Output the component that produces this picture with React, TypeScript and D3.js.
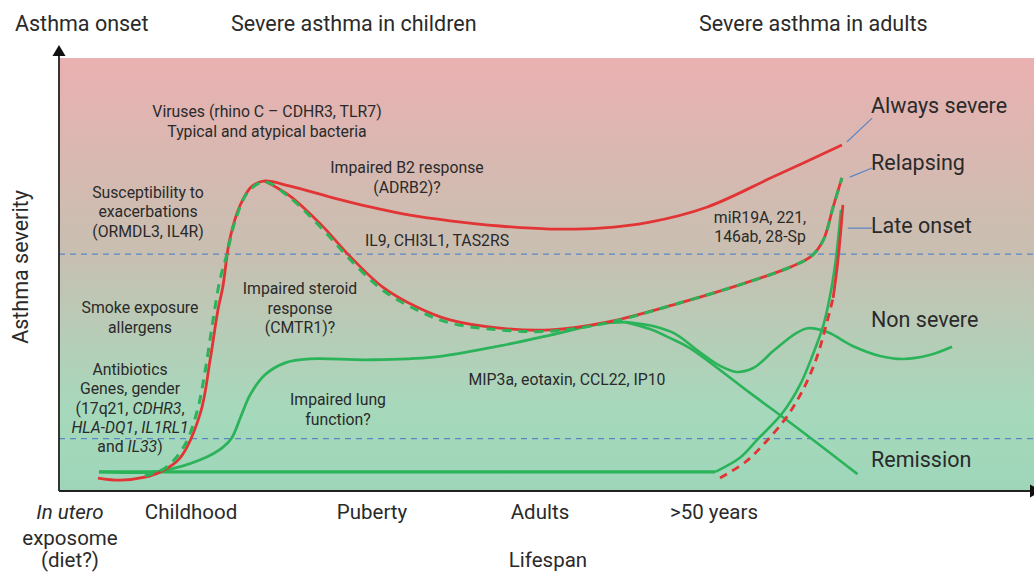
import React from "react";
import * as d3 from "d3";

type Pt = [number, number];

// ---- data (x: lifespan 0-100, y: severity 0-100) ----
const alwaysSevere: Pt[] = [
  [4.0, 3.0], [6.3, 2.5], [8.8, 3.2], [10.4, 4.4], [12.4, 7.6], [14.5, 18.0], [15.5, 30.3],
  [16.3, 41.8], [16.8, 47.1], [17.5, 58.0], [18.6, 66.1], [19.8, 70.4], [21.1, 71.6],
  [23.7, 70.4], [27.8, 67.9], [31.9, 65.6], [36.0, 63.7], [40.1, 62.4], [45.2, 61.2],
  [50.4, 60.5], [55.5, 60.7], [60.6, 62.1], [66.5, 65.6], [73.2, 72.5], [80.3, 79.9],
];
const relapsingRed: Pt[] = [
  [21.1, 71.6], [23.7, 68.1], [27.1, 61.0], [29.8, 54.3], [33.2, 47.1], [36.7, 42.5],
  [40.1, 39.5], [45.2, 37.6], [50.4, 37.2], [56.2, 39.0], [63.0, 43.0], [69.8, 47.6],
  [75.0, 51.7], [77.2, 54.3], [78.4, 58.0], [79.4, 65.6], [80.3, 72.3],
];
const relapsingGreen: Pt[] = [
  [8.8, 3.5], [10.9, 5.3], [12.9, 10.6], [14.2, 18.7], [15.0, 27.9], [15.8, 39.5],
  [16.5, 48.7], [17.2, 54.5], [18.1, 62.6], [19.4, 69.1], [21.1, 71.4], [23.7, 67.7],
  [27.1, 60.3], [29.8, 53.6], [33.2, 46.4], [36.7, 41.8], [40.1, 38.8], [45.2, 37.2],
  [50.4, 36.9], [56.2, 38.8], [63.0, 43.0], [69.8, 47.6], [75.0, 51.7], [77.2, 54.3],
  [78.4, 58.0], [79.4, 65.6], [80.3, 72.3],
];
const baselineGreen: Pt[] = [[4.1, 4.4], [67.3, 4.4]];
const lateOnsetGreen: Pt[] = [
  [67.3, 4.4], [69.8, 7.6], [71.6, 11.8], [74.2, 18.0], [76.0, 24.5], [77.3, 31.4],
  [78.4, 38.3], [79.1, 45.3], [79.6, 52.2], [79.9, 58.0], [80.2, 64.9],
];
const lateOnsetRedDashed: Pt[] = [
  [67.8, 3.0], [70.4, 6.7], [72.4, 11.1], [74.7, 17.3], [76.4, 23.8], [77.7, 30.7],
  [78.6, 37.6], [79.4, 44.6],
];
const lateOnsetRedSolid: Pt[] = [[79.4, 44.6], [79.8, 51.5], [80.1, 58.0], [80.4, 66.1]];
const childhoodGreen: Pt[] = [
  [4.1, 4.4], [10.4, 4.6], [14.5, 7.2], [16.7, 9.9], [17.7, 12.2], [18.6, 16.9], [19.6, 22.2],
  [21.1, 26.8], [23.2, 29.6], [25.7, 30.5], [31.6, 30.3], [38.4, 30.9], [45.2, 33.5],
  [50.4, 36.0], [55.5, 38.6], [58.1, 39.0],
];
const nonSevereGreen: Pt[] = [
  [58.1, 39.0], [60.9, 38.1], [63.2, 36.3], [65.7, 32.1], [67.8, 28.9], [69.5, 27.5],
  [71.2, 28.4], [73.4, 32.6], [75.5, 36.3], [76.8, 37.6], [78.8, 36.7], [81.4, 33.5],
  [84.2, 31.2], [86.6, 30.5], [89.3, 31.4], [91.6, 33.3],
];
const remissionGreen: Pt[] = [
  [58.1, 39.0], [60.6, 37.4], [62.7, 35.3], [64.7, 33.0], [70.9, 22.6], [76.0, 14.1], [81.9, 3.9],
];
const thresholds: number[] = [54.7, 12.1];
const leaders: Pt[][] = [
  [[80.8, 80.6], [83.4, 86.1]],
  [[81.1, 72.5], [83.4, 74.6]],
  [[80.9, 60.7], [83.4, 60.7]],
];
const outcomeLabels: string[] = ["Always severe", "Relapsing", "Late onset", "Non severe", "Remission"];
const stageLabels: string[] = ["Childhood", "Puberty", "Adults", ">50 years"];

// ---- layout ----
const W = 1034, H = 573;
const L = 59, R = 1034, T = 58, B = 491;
const RED = "#e23434";
const GREEN = "#2bb35a";
const BLUE = "#5a86c6";
const TXT = "#2a2a2a";
const FONT = "Roboto, 'Noto Sans', sans-serif";
const ANN = 15.8;

const outcomeY = [113, 170, 233, 327, 467];
const stageX = [191, 372, 540, 714];

export default function App() {
  const x = d3.scaleLinear().domain([0, 100]).range([L, R]);
  const y = d3.scaleLinear().domain([0, 100]).range([B, T]);
  const line = d3
    .line<Pt>()
    .x((d) => x(d[0]))
    .y((d) => y(d[1]))
    .curve(d3.curveCatmullRom.alpha(0.5));
  const straight = d3.line<Pt>().x((d) => x(d[0])).y((d) => y(d[1]));

  const ann = (lines: React.ReactNode[], cx: number, y0: number, dy: number, size = ANN) => (
    <text x={cx} y={y0} textAnchor="middle" fontSize={size} fill={TXT} fontFamily={FONT}>
      {lines.map((l, i) => (
        <tspan key={i} x={cx} dy={i === 0 ? 0 : dy}>
          {l}
        </tspan>
      ))}
    </text>
  );

  return (
    <div style={{ position: "fixed", left: 0, top: 0 }}>
      <svg width={W} height={H} style={{ display: "block", background: "#fff" }}>
        <defs>
          <linearGradient id="bg" x1="0" y1="0" x2="0" y2="1">
            <stop offset="0%" stopColor="#eab1b1" />
            <stop offset="45%" stopColor="#c8bfb1" />
            <stop offset="82%" stopColor="#a6d9bc" />
            <stop offset="100%" stopColor="#9ed5b8" />
          </linearGradient>
        </defs>
        <rect x={L} y={T} width={R - L} height={B - T} fill="url(#bg)" />

        {thresholds.map((t, i) => (
          <line key={i} x1={L} x2={R} y1={y(t)} y2={y(t)} stroke={BLUE} strokeWidth={1.3} strokeDasharray="6 5" />
        ))}

        {/* green paths */}
        <path d={straight(baselineGreen)!} fill="none" stroke={GREEN} strokeWidth={3.2} />
        <path d={line(childhoodGreen)!} fill="none" stroke={GREEN} strokeWidth={2.8} />
        <path d={line(remissionGreen)!} fill="none" stroke={GREEN} strokeWidth={2.6} />
        <path d={line(nonSevereGreen)!} fill="none" stroke={GREEN} strokeWidth={2.6} />
        <path d={line(lateOnsetGreen)!} fill="none" stroke={GREEN} strokeWidth={2.6} />

        {/* red paths */}
        <path d={line(alwaysSevere)!} fill="none" stroke={RED} strokeWidth={2.8} />
        <path d={line(relapsingRed)!} fill="none" stroke={RED} strokeWidth={2.8} />
        <path d={line(relapsingGreen)!} fill="none" stroke={GREEN} strokeWidth={3} strokeDasharray="9 7" />
        <path d={line(lateOnsetRedDashed)!} fill="none" stroke={RED} strokeWidth={2.8} strokeDasharray="8 6" />
        <path d={line(lateOnsetRedSolid)!} fill="none" stroke={RED} strokeWidth={2.8} />

        {/* axes */}
        <line x1={L} x2={L} y1={B} y2={55} stroke="#222" strokeWidth={1.8} />
        <path d={`M${L},45 L${L - 6.5},56 L${L + 6.5},56 Z`} fill="#111" />
        <line x1={L} x2={1030} y1={B} y2={B} stroke="#222" strokeWidth={1.8} />
        <path d={`M1042,${B} L1030,${B - 6.5} L1030,${B + 6.5} Z`} fill="#111" />

        {/* leader lines */}
        {leaders.map((l, i) => (
          <path key={i} d={straight(l)!} stroke={BLUE} strokeWidth={1.2} fill="none" />
        ))}

        {/* headers */}
        <g fontFamily={FONT} fontSize={21.5} fill={TXT}>
          <text x={15} y={31}>Asthma onset</text>
          <text x={231} y={31}>Severe asthma in children</text>
          <text x={699} y={31}>Severe asthma in adults</text>
          <text transform="translate(28,267) rotate(-90)" textAnchor="middle">Asthma severity</text>
          {outcomeLabels.map((s, i) => (
            <text key={s} x={871} y={outcomeY[i]}>{s}</text>
          ))}
        </g>

        {/* annotations */}
        {ann(["Viruses (rhino C – CDHR3, TLR7)", "Typical and atypical bacteria"], 267, 117, 19.5)}
        {ann(["Impaired B2 response", "(ADRB2)?"], 407, 173, 19.5)}
        {ann(["Susceptibility to", "exacerbations", "(ORMDL3, IL4R)"], 148, 198, 19.3)}
        {ann(["IL9, CHI3L1, TAS2RS"], 437, 246, 19)}
        {ann(["Smoke exposure", "allergens"], 140, 313, 19.5)}
        {ann(["Impaired steroid", "response", "(CMTR1)?"], 300, 294, 19.5)}
        {ann(
          [
            "Antibiotics",
            "Genes, gender",
            <>(17q21, <tspan fontStyle="italic">CDHR3</tspan>,</>,
            <><tspan fontStyle="italic">HLA-DQ1</tspan>, <tspan fontStyle="italic">IL1RL1</tspan></>,
            <>and <tspan fontStyle="italic">IL33</tspan>)</>,
          ],
          130,
          375,
          19.3
        )}
        {ann(["Impaired lung", "function?"], 338, 405, 19.5)}
        {ann(["MIP3a, eotaxin, CCL22, IP10"], 567, 385, 19)}
        {ann(["miR19A, 221,", "146ab, 28-Sp"], 760, 223, 19.3)}

        {/* x labels */}
        <g fontFamily={FONT} fontSize={20.5} fill={TXT} textAnchor="middle">
          <text x={70} y={519} fontStyle="italic">In utero</text>
          <text x={70} y={545}>exposome</text>
          <text x={70} y={567}>(diet?)</text>
          {stageLabels.map((s, i) => (
            <text key={s} x={stageX[i]} y={519}>{s}</text>
          ))}
          <text x={548} y={567}>Lifespan</text>
        </g>
      </svg>
    </div>
  );
}
